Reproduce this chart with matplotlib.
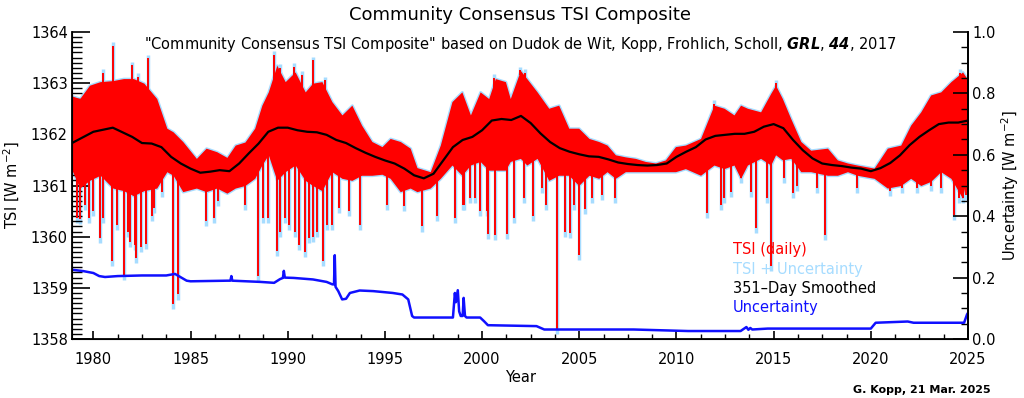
import numpy as np
import matplotlib
matplotlib.use('Agg')
from matplotlib import pyplot as plt
from matplotlib.ticker import MultipleLocator, FormatStrFormatter

plt.rcParams['font.family'] = ['DejaVu Sans']
plt.rcParams['mathtext.fontset'] = 'dejavusans'
plt.rcParams['mathtext.default'] = 'regular'

# 351-day smoothed TSI (W m-2)
smooth_year = [1978.9, 1980.0, 1981.0, 1982.0, 1982.5, 1983.0, 1983.5, 1984.0, 1984.5,
               1985.0, 1985.5, 1986.0, 1986.5, 1987.0, 1987.5, 1988.0, 1988.5, 1989.0,
               1989.5, 1990.0, 1990.5, 1991.0, 1991.5, 1992.0, 1992.5, 1993.0, 1993.5,
               1994.0, 1994.5, 1995.0, 1995.5, 1996.0, 1996.5, 1997.0, 1997.5, 1998.0,
               1998.5, 1999.0, 1999.5, 2000.0, 2000.5, 2001.0, 2001.5, 2002.0, 2002.5,
               2003.0, 2003.5, 2004.0, 2004.5, 2005.0, 2005.5, 2006.0, 2006.5, 2007.0,
               2007.5, 2008.0, 2008.5, 2009.0, 2009.5, 2010.0, 2010.5, 2011.0, 2011.5,
               2012.0, 2012.5, 2013.0, 2013.5, 2014.0, 2014.5, 2015.0, 2015.5, 2016.0,
               2016.5, 2017.0, 2017.5, 2018.0, 2018.5, 2019.0, 2019.5, 2020.0, 2020.5,
               2021.0, 2021.5, 2022.0, 2022.5, 2023.0, 2023.5, 2024.0, 2024.5, 2025.0]
smooth_tsi = [1361.83, 1362.05, 1362.13, 1361.95, 1361.83, 1361.82, 1361.75, 1361.56, 1361.43,
              1361.33, 1361.25, 1361.27, 1361.30, 1361.28, 1361.43, 1361.63, 1361.82, 1362.05,
              1362.13, 1362.13, 1362.08, 1362.05, 1362.04, 1361.99, 1361.89, 1361.83, 1361.73,
              1361.64, 1361.56, 1361.49, 1361.43, 1361.33, 1361.20, 1361.14, 1361.23, 1361.49,
              1361.75, 1361.89, 1361.95, 1362.08, 1362.27, 1362.30, 1362.28, 1362.36, 1362.22,
              1362.02, 1361.85, 1361.73, 1361.66, 1361.61, 1361.57, 1361.56, 1361.51, 1361.45,
              1361.42, 1361.40, 1361.39, 1361.40, 1361.43, 1361.56, 1361.66, 1361.75, 1361.90,
              1361.97, 1361.99, 1362.01, 1362.01, 1362.05, 1362.15, 1362.20, 1362.12, 1361.89,
              1361.69, 1361.53, 1361.43, 1361.40, 1361.38, 1361.35, 1361.33, 1361.28, 1361.34,
              1361.44, 1361.59, 1361.79, 1361.95, 1362.08, 1362.20, 1362.23, 1362.23, 1362.27]

# envelope of the daily TSI (upper / lower edge of the dense red band)
env_year = [1978.9, 1979.3, 1979.8, 1980.35, 1981.0, 1981.55, 1982.06, 1982.6, 1983.26, 1983.78,
            1984.1, 1984.6, 1985.3, 1985.8, 1986.35, 1986.87, 1987.3, 1987.8, 1988.3, 1988.67,
            1989.0, 1989.44, 1989.87, 1990.38, 1990.9, 1991.28, 1991.76, 1992.27, 1992.79, 1993.3,
            1993.8, 1994.33, 1994.85, 1995.27, 1995.79, 1996.3, 1996.65, 1997.33, 1997.85, 1998.45,
            1998.96, 1999.4, 1999.9, 2000.34, 2000.68, 2001.2, 2001.45, 2001.97, 2002.3, 2002.83,
            2003.43, 2003.94, 2004.46, 2004.97, 2005.5, 2006.0, 2006.43, 2006.86, 2007.37, 2007.89,
            2008.4, 2008.92, 2009.43, 2009.95, 2010.46, 2011.24, 2011.93, 2012.45, 2012.96, 2013.3,
            2013.65, 2014.33, 2014.85, 2015.1, 2015.45, 2015.88, 2016.4, 2016.91, 2017.77, 2018.28,
            2018.8, 2019.3, 2020.17, 2020.85, 2021.54, 2022.05, 2022.57, 2023.08, 2023.6, 2024.12,
            2024.72, 2025.0]
env_top = [1362.75, 1362.70, 1362.96, 1363.03, 1363.05, 1363.09, 1363.09, 1363.00, 1362.70, 1362.12,
           1362.05, 1361.86, 1361.53, 1361.73, 1361.66, 1361.55, 1361.79, 1361.85, 1362.12, 1362.57,
           1362.83, 1363.35, 1363.03, 1363.22, 1362.83, 1363.00, 1363.03, 1362.64, 1362.38, 1362.57,
           1362.18, 1361.86, 1361.76, 1361.92, 1361.86, 1361.73, 1361.35, 1361.27, 1361.79, 1362.64,
           1362.83, 1362.38, 1362.83, 1362.70, 1363.09, 1363.03, 1362.70, 1363.25, 1363.09, 1362.83,
           1362.51, 1362.57, 1362.12, 1362.12, 1361.92, 1361.86, 1361.79, 1361.60, 1361.56, 1361.53,
           1361.47, 1361.44, 1361.50, 1361.76, 1361.79, 1361.92, 1362.57, 1362.51, 1362.38, 1362.57,
           1362.51, 1362.44, 1362.80, 1362.96, 1362.70, 1362.31, 1361.86, 1361.69, 1361.73, 1361.50,
           1361.44, 1361.40, 1361.34, 1361.73, 1361.79, 1362.18, 1362.44, 1362.77, 1362.83, 1363.03,
           1363.22, 1363.06]
env_low = [1361.30, 1360.95, 1361.10, 1361.20, 1360.95, 1360.90, 1360.80, 1360.90, 1360.95, 1361.27,
           1361.20, 1360.88, 1360.95, 1360.88, 1360.95, 1360.85, 1360.95, 1361.00, 1361.14, 1361.40,
           1361.60, 1361.10, 1361.27, 1361.40, 1361.10, 1361.00, 1360.90, 1361.27, 1361.14, 1361.10,
           1361.20, 1361.20, 1361.22, 1361.14, 1360.88, 1360.95, 1360.88, 1360.95, 1361.14, 1361.40,
           1361.20, 1361.40, 1361.47, 1361.30, 1361.30, 1361.30, 1361.47, 1361.53, 1361.40, 1361.53,
           1361.10, 1361.20, 1361.20, 1361.00, 1361.20, 1361.14, 1361.27, 1361.14, 1361.27, 1361.27,
           1361.27, 1361.27, 1361.27, 1361.27, 1361.33, 1361.20, 1361.40, 1361.33, 1361.40, 1361.14,
           1361.40, 1361.53, 1361.40, 1361.60, 1361.50, 1361.53, 1361.27, 1361.27, 1361.20, 1361.20,
           1361.27, 1361.20, 1361.14, 1360.95, 1361.00, 1361.14, 1361.00, 1361.08, 1361.27, 1361.14,
           1360.75, 1361.30]

# individual daily dips (sunspot darkening)
dip_year = [1979.14, 1979.3, 1979.57, 1979.8, 1980.0, 1980.35, 1980.5, 1980.95, 1981.2, 1981.58,
            1981.8, 1981.9, 1982.15, 1982.2, 1982.45, 1982.7, 1983.0, 1983.1, 1983.52, 1984.09,
            1984.33, 1985.8, 1986.2, 1986.4, 1987.8, 1988.47, 1988.75, 1989.0, 1989.45, 1989.6,
            1989.87, 1990.04, 1990.38, 1990.56, 1990.88, 1991.07, 1991.3, 1991.5, 1991.8, 1992.0,
            1992.27, 1992.62, 1993.13, 1993.7, 1995.1, 1996.0, 1996.9, 1997.68, 1998.6, 1999.0,
            1999.05, 1999.4, 1999.65, 1999.9, 2000.25, 2000.3, 2000.68, 2001.3, 2001.63, 2002.14,
            2002.6, 2003.08, 2003.3, 2003.83, 2004.28, 2004.5, 2004.71, 2005.0, 2005.3, 2005.66,
            2006.17, 2006.86, 2011.59, 2012.28, 2012.45, 2012.79, 2013.3, 2013.82, 2014.08, 2014.68,
            2014.85, 2015.54, 2016.0, 2016.22, 2017.25, 2017.65, 2019.3, 2021.0, 2021.63, 2022.4,
            2023.08, 2023.6, 2024.3, 2024.54, 2024.75, 2024.9]
dip_tsi = [1360.36, 1360.35, 1360.62, 1360.36, 1360.50, 1359.97, 1360.36, 1359.52, 1360.23, 1359.26,
           1360.10, 1359.90, 1359.84, 1359.58, 1359.80, 1359.85, 1360.40, 1360.56, 1360.88, 1358.68,
           1358.87, 1360.30, 1360.36, 1360.70, 1360.62, 1359.23, 1360.36, 1360.36, 1359.72, 1360.10,
           1360.36, 1360.23, 1360.10, 1359.84, 1359.70, 1359.97, 1360.00, 1360.10, 1359.52, 1360.23,
           1360.23, 1360.56, 1360.50, 1360.23, 1360.62, 1360.60, 1360.20, 1360.40, 1360.36, 1360.62,
           1360.62, 1360.75, 1360.75, 1360.50, 1360.50, 1360.05, 1360.04, 1360.05, 1360.36, 1360.75,
           1360.40, 1360.95, 1360.62, 1358.20, 1360.10, 1360.07, 1360.62, 1359.65, 1360.55, 1360.75,
           1360.82, 1360.75, 1360.46, 1360.62, 1360.75, 1360.88, 1361.14, 1360.88, 1360.17, 1360.75,
           1359.42, 1361.14, 1360.85, 1361.00, 1360.95, 1360.04, 1360.95, 1360.90, 1360.95, 1360.95,
           1361.00, 1360.95, 1360.43, 1360.75, 1360.75, 1360.82]
# bright days above the band
peak_year = [1980.5, 1981.0, 1982.0, 1982.3, 1982.83, 1989.27, 1989.6, 1990.3, 1990.73, 1991.28,
             1991.93, 2000.6, 2001.97, 2002.2, 2011.93, 2015.1, 2024.6]
peak_tsi = [1363.20, 1363.73, 1363.35, 1363.12, 1363.49, 1363.55, 1363.30, 1363.32, 1363.16, 1363.45,
            1363.06, 1363.10, 1363.25, 1363.20, 1362.60, 1363.00, 1363.20]

# TSI uncertainty (W m-2, right axis)
unc_year = [1978.87, 1979.5, 1980.0, 1980.3, 1980.6, 1981.25, 1982.5, 1983.75, 1984.2, 1984.8,
            1985.0, 1986.9, 1987.05, 1987.1, 1987.15, 1988.6, 1989.3, 1989.6, 1989.75, 1989.8,
            1989.85, 1990.3, 1991.3, 1992.0, 1992.3, 1992.38, 1992.42, 1992.46, 1992.6, 1992.8,
            1993.0, 1993.2, 1993.7, 1994.4, 1995.4, 1995.9, 1996.2, 1996.4, 1996.5, 1998.4,
            1998.5, 1998.6, 1998.65, 1998.75, 1998.82, 1998.9, 1999.0, 1999.05, 1999.12, 1999.2,
            1999.9, 2000.1, 2000.3, 2002.8, 2003.2, 2007.8, 2010.6, 2013.3, 2013.6, 2013.7,
            2013.8, 2013.9, 2014.7, 2020.0, 2020.25, 2021.9, 2022.2, 2024.8, 2024.95, 2025.0]
unc_val = [0.226, 0.221, 0.215, 0.205, 0.202, 0.205, 0.207, 0.207, 0.212, 0.190,
           0.188, 0.190, 0.190, 0.205, 0.190, 0.186, 0.183, 0.195, 0.199, 0.222,
           0.200, 0.199, 0.194, 0.186, 0.178, 0.178, 0.273, 0.170, 0.156, 0.129,
           0.131, 0.150, 0.158, 0.156, 0.150, 0.145, 0.129, 0.075, 0.070, 0.070,
           0.070, 0.150, 0.120, 0.159, 0.090, 0.075, 0.075, 0.134, 0.075, 0.070,
           0.070, 0.058, 0.045, 0.042, 0.031, 0.031, 0.026, 0.026, 0.039, 0.030,
           0.036, 0.031, 0.034, 0.034, 0.053, 0.057, 0.053, 0.053, 0.080, 0.085]

red = '#ff0000'
lblue = '#a6dcff'
blue = '#1010ff'

fig = plt.figure(figsize=(10.24, 3.98), dpi=100)
ax = fig.add_axes([0.0703, 0.1482, 0.875, 0.7714])

# daily TSI band with uncertainty halo
ax.fill_between(env_year, env_low, env_top, color=lblue, lw=2, zorder=1)
ax.fill_between(env_year, env_low, env_top, color=red, lw=0, zorder=2)

dip_base = np.interp(dip_year, env_year, env_low) + 0.1
ax.vlines(dip_year, np.array(dip_tsi) - 0.1, dip_base, color=lblue, lw=2.5, zorder=1)
ax.vlines(dip_year, dip_tsi, dip_base, color=red, lw=1.4, zorder=2)
peak_base = np.interp(peak_year, env_year, env_top) - 0.1
ax.vlines(peak_year, peak_base, np.array(peak_tsi) + 0.07, color=lblue, lw=2.5, zorder=1)
ax.vlines(peak_year, peak_base, peak_tsi, color=red, lw=1.4, zorder=2)

ax.plot(smooth_year, smooth_tsi, color='black', lw=1.6, zorder=3)

ax.set_xlim(1978.9, 2025.0)
ax.set_ylim(1358, 1364)
ax.xaxis.set_major_locator(MultipleLocator(5))
ax.xaxis.set_minor_locator(MultipleLocator(1.25))
ax.yaxis.set_major_locator(MultipleLocator(1))
ax.yaxis.set_minor_locator(MultipleLocator(0.1))
ax.tick_params(axis='x', which='major', direction='in', length=6, width=1.2, labelsize=10.5, pad=9)
ax.tick_params(axis='x', which='minor', direction='in', length=3.5, width=1)
ax.tick_params(axis='y', which='major', direction='in', length=13, width=1.2, labelsize=10.5, pad=3)
ax.tick_params(axis='y', which='minor', direction='in', length=7, width=1)
ax.spines['top'].set_visible(False)
for s in ['left', 'bottom', 'right']:
    ax.spines[s].set_linewidth(1.3)

# uncertainty on the right axis
ax2 = ax.twinx()
ax2.plot(unc_year, unc_val, color=blue, lw=1.8)
ax2.set_ylim(0, 1)
ax2.yaxis.set_major_locator(MultipleLocator(0.2))
ax2.yaxis.set_minor_locator(MultipleLocator(0.05))
ax2.yaxis.set_major_formatter(FormatStrFormatter('%.1f'))
ax2.tick_params(axis='y', which='major', direction='in', length=11, width=1.2, labelsize=10.5, pad=3)
ax2.tick_params(axis='y', which='minor', direction='in', length=5, width=1)
ax2.spines['top'].set_visible(False)
ax2.spines['right'].set_linewidth(1.3)

# legend as coloured text
ax.text(0.738, 0.292, 'TSI (daily)', color=red, fontsize=10.5, transform=ax.transAxes, va='center')
ax.text(0.738, 0.227, 'TSI + Uncertainty', color=lblue, fontsize=10.5, transform=ax.transAxes, va='center')
ax.text(0.738, 0.166, '351\u2013Day Smoothed', color='black', fontsize=10.5, transform=ax.transAxes, va='center')
ax.text(0.738, 0.104, 'Uncertainty', color=blue, fontsize=10.5, transform=ax.transAxes, va='center')

fig.text(0.508, 1 - 15 / 398, 'Community Consensus TSI Composite', ha='center', va='center', fontsize=13)
fig.text(0.508, 1 - 44 / 398,
         '"Community Consensus TSI Composite" based on Dudok de Wit, Kopp, Frohlich, Scholl, '
         r'$\mathbfit{GRL}$, $\mathbfit{44}$, 2017',
         ha='center', va='center', fontsize=10.5)
fig.text(0.508, 1 - 377 / 398, 'Year', ha='center', va='center', fontsize=10.5)
fig.text(12 / 1024, 1 - 185 / 398, r'TSI [W m$^{-2}$]', rotation=90, ha='center', va='center', fontsize=10.5)
fig.text(1010 / 1024, 1 - 185 / 398, r'Uncertainty [W m$^{-2}$]', rotation=90, ha='center', va='center', fontsize=10.5)
fig.text(991 / 1024, 1 - 390 / 398, 'G. Kopp, 21 Mar. 2025', ha='right', va='center', fontsize=8, fontweight='bold')

plt.savefig('out.png', dpi=100)
